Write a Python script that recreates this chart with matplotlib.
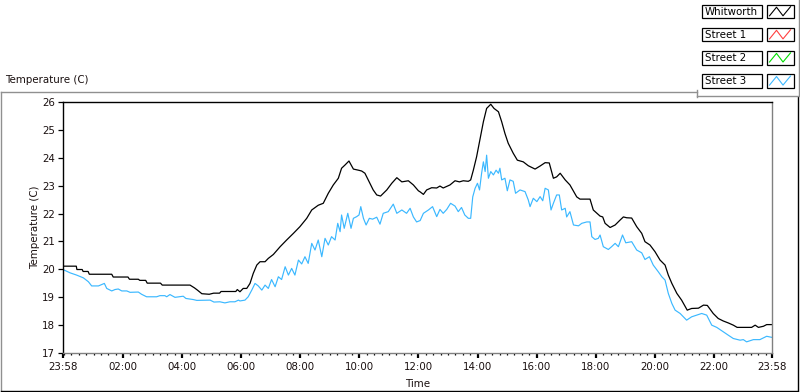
import matplotlib
matplotlib.use("Agg")
import matplotlib.pyplot as plt
from matplotlib.patches import Rectangle
from matplotlib.lines import Line2D
import numpy as np

# ---------------- data ----------------
start_clock = "23:58"
x_tick_labels = ["23:58", "02:00", "04:00", "06:00", "08:00", "10:00", "12:00",
                 "14:00", "16:00", "18:00", "20:00", "22:00", "23:58"]
y_ticks = [17, 18, 19, 20, 21, 22, 23, 24, 25, 26]

series_names = ["Whitworth", "Street 1", "Street 2", "Street 3"]
series_colors = ["#000000", "#FF4040", "#00DD00", "#3BB8FF"]

# hours elapsed since 23:58
whit_t = [0.00, 0.45, 0.47, 0.65, 0.68, 0.85, 0.89, 1.65, 1.70, 2.20, 2.25, 2.55, 2.60, 2.80,
          2.85, 3.30, 3.36, 4.30, 4.45, 4.55, 4.70, 4.95, 5.10, 5.30, 5.35, 5.85, 5.90,
          5.99, 6.10, 6.22, 6.33, 6.44, 6.56, 6.67, 6.84, 6.95, 7.12, 7.35, 7.57, 7.80, 8.02,
          8.25, 8.42, 8.64, 8.81, 8.98, 9.15, 9.32, 9.43, 9.54, 9.68, 9.83, 10.00, 10.11,
          10.22, 10.39, 10.50, 10.62, 10.75, 10.96, 11.13, 11.30, 11.47, 11.69, 11.86, 12.03,
          12.09, 12.20, 12.31, 12.48, 12.65, 12.76, 12.87, 13.10, 13.27, 13.42, 13.55, 13.72,
          13.80, 13.89, 14.00, 14.12, 14.23, 14.34, 14.48, 14.59, 14.74, 14.85, 14.96, 15.07,
          15.24, 15.38, 15.58, 15.75, 15.98, 16.15, 16.32, 16.46, 16.60, 16.71, 16.83, 17.00,
          17.16, 17.39, 17.50, 17.84, 17.95, 18.18, 18.27, 18.35, 18.52, 18.69, 18.86, 18.97,
          19.08, 19.25, 19.42, 19.59, 19.70, 19.87, 20.04, 20.21, 20.38, 20.49, 20.61, 20.78,
          20.94, 21.13, 21.28, 21.51, 21.68, 21.81, 22.01, 22.18, 22.35, 22.52, 22.69, 22.82,
          23.31, 23.43, 23.54, 23.71, 23.82, 24.00]
whit_v = [20.11, 20.11, 19.99, 19.99, 19.92, 19.92, 19.82, 19.82, 19.72, 19.72, 19.64, 19.64,
          19.60, 19.60, 19.50, 19.50, 19.43, 19.43, 19.33, 19.25, 19.12, 19.10, 19.14, 19.14,
          19.20, 19.20, 19.27,
          19.19, 19.31, 19.31, 19.49, 19.85, 20.15, 20.27, 20.27, 20.39, 20.53, 20.81, 21.05,
          21.29, 21.53, 21.83, 22.13, 22.30, 22.37, 22.73, 23.03, 23.27, 23.63, 23.74, 23.89,
          23.60, 23.56, 23.53, 23.45, 23.09, 22.85, 22.67, 22.63, 22.85, 23.09, 23.29, 23.14,
          23.18, 23.03, 22.82,
          22.78, 22.69, 22.85, 22.93, 22.92, 22.99, 22.92, 23.03, 23.18, 23.14, 23.18, 23.16,
          23.21, 23.56, 24.04, 24.70, 25.30, 25.78, 25.93, 25.78, 25.66, 25.30, 24.88, 24.53,
          24.17, 23.92, 23.86, 23.72, 23.60, 23.71, 23.83, 23.82, 23.27, 23.32, 23.45, 23.21,
          23.03, 22.60, 22.52, 22.52, 22.13, 21.91, 21.88, 21.65, 21.50, 21.59, 21.77, 21.88,
          21.85, 21.84, 21.53, 21.29, 20.99, 20.87, 20.63, 20.33, 20.15, 19.79, 19.49, 19.13,
          18.89, 18.53, 18.59, 18.60, 18.71, 18.70, 18.41, 18.23, 18.14, 18.07, 17.99, 17.91,
          17.91, 17.99, 17.91, 17.95, 18.01, 18.01]

street1_t, street1_v = [], []
street2_t, street2_v = [], []

street3_t = [0.00, 0.24, 0.46, 0.69, 0.86, 0.97, 1.20, 1.31, 1.40, 1.48, 1.65, 1.76, 1.87, 1.99,
             2.16, 2.27, 2.55, 2.66, 2.83, 3.17, 3.28, 3.45, 3.51, 3.62, 3.79, 4.07, 4.16, 4.41,
             4.53, 4.98, 5.11, 5.31, 5.48, 5.65, 5.82, 5.94, 5.99, 6.16, 6.27, 6.39, 6.50, 6.61,
             6.73, 6.84, 6.95, 7.06, 7.18, 7.29, 7.40, 7.52, 7.63, 7.74, 7.85, 7.97, 8.08, 8.19,
             8.30, 8.42, 8.53, 8.64, 8.76, 8.87, 8.98, 9.09, 9.21, 9.30, 9.38, 9.43, 9.52, 9.64,
             9.75, 9.83, 9.94, 10.02, 10.08, 10.17, 10.26, 10.37, 10.48, 10.62, 10.73, 10.84,
             11.01, 11.18, 11.30, 11.47, 11.63, 11.75, 11.86, 11.97, 12.09, 12.20, 12.37, 12.51,
             12.65, 12.76, 12.87, 12.99, 13.12, 13.27, 13.38, 13.49, 13.60, 13.72, 13.80, 13.87,
             13.95, 14.03, 14.10, 14.17, 14.23, 14.29, 14.34, 14.40, 14.48, 14.57, 14.66, 14.74,
             14.79, 14.85, 14.96, 15.04, 15.13, 15.24, 15.32, 15.47, 15.64, 15.75, 15.81, 15.92,
             16.04, 16.15, 16.24, 16.32, 16.43, 16.52, 16.60, 16.71, 16.80, 16.88, 17.00, 17.05,
             17.16, 17.28, 17.45, 17.56, 17.73, 17.84, 17.90, 18.01, 18.12, 18.18, 18.29, 18.46,
             18.57, 18.69, 18.80, 18.94, 19.05, 19.25, 19.42, 19.59, 19.70, 19.85, 19.98, 20.15,
             20.27, 20.38, 20.49, 20.61, 20.72, 20.89, 21.11, 21.28, 21.45, 21.62, 21.79, 21.96,
             22.13, 22.35, 22.52, 22.69, 22.92, 23.03, 23.14, 23.37, 23.59, 23.82, 24.00]
street3_v = [19.99, 19.87, 19.79, 19.69, 19.55, 19.40, 19.40, 19.45, 19.49, 19.31, 19.22, 19.27,
             19.29, 19.22, 19.22, 19.17, 19.18, 19.10, 19.01, 19.01, 19.05, 19.05, 19.01, 19.09,
             18.99, 19.03, 18.95, 18.91, 18.88, 18.89, 18.82, 18.83, 18.79, 18.83, 18.83, 18.89,
             18.86, 18.89, 19.01, 19.25, 19.49, 19.40, 19.25, 19.43, 19.31, 19.63, 19.37, 19.73,
             19.63, 20.09, 19.79, 20.03, 19.79, 20.33, 20.19, 20.45, 20.21, 20.93, 20.69, 21.05,
             20.45, 21.11, 20.87, 21.17, 21.05, 21.65, 21.35, 21.95, 21.47, 22.01, 21.47, 21.83,
             21.89, 21.95, 22.25, 21.83, 21.59, 21.83, 21.80, 21.87, 21.62, 22.01, 22.07, 22.34,
             22.01, 22.13, 22.01, 22.19, 21.88, 21.70, 21.75, 22.01, 22.13, 22.25, 21.89, 22.15,
             22.01, 22.15, 22.37, 22.27, 22.07, 22.22, 21.95, 21.83, 21.83, 22.60, 22.91, 23.09,
             22.85, 23.45, 23.86, 23.51, 24.10, 23.27, 23.51, 23.39, 23.56, 23.45, 23.63, 23.21,
             23.27, 22.82, 23.21, 23.16, 22.73, 22.85, 22.79, 22.49, 22.25, 22.55, 22.43, 22.61,
             22.46, 22.91, 22.85, 22.13, 22.37, 22.67, 22.67, 22.13, 22.19, 21.88, 22.07, 21.59,
             21.56, 21.65, 21.70, 21.70, 21.17, 21.07, 21.11, 21.23, 20.81, 20.71, 20.81, 20.93,
             20.81, 21.23, 20.95, 20.99, 20.69, 20.59, 20.35, 20.45, 20.15, 19.91, 19.73, 19.61,
             19.13, 18.77, 18.53, 18.41, 18.17, 18.29, 18.35, 18.41, 18.35, 17.99, 17.91, 17.75,
             17.63, 17.51, 17.45, 17.47, 17.39, 17.47, 17.47, 17.59, 17.55]

# ---------------- figure ----------------
W, H = 800, 392
fig = plt.figure(figsize=(8, 3.92), dpi=100)
FONT = "DejaVu Sans"
FS = 7.4
TXT = "#1a1010"


def fx(x):
    return x / W


def fy(y):
    return 1 - y / H


ax = fig.add_axes([fx(63), fy(352.7), fx(772) - fx(63), fy(102.3) - fy(352.7)])

ax.plot(street1_t, street1_v, color=series_colors[1], lw=0.8)
ax.plot(street2_t, street2_v, color=series_colors[2], lw=0.8)
ax.plot(street3_t, street3_v, color=series_colors[3], lw=0.85)
ax.plot(whit_t, whit_v, color=series_colors[0], lw=0.9)

ax.set_xlim(0, 24)
ax.set_ylim(17, 26)

for s in ["top", "left"]:
    ax.spines[s].set_color("black")
    ax.spines[s].set_linewidth(1.0)
for s in ["bottom", "right"]:
    ax.spines[s].set_color("#808080")
    ax.spines[s].set_linewidth(1.0)


def clock_to_hours(lbl, idx):
    sh, sm = map(int, start_clock.split(":"))
    h, m = map(int, lbl.split(":"))
    v = (h * 60 + m - (sh * 60 + sm)) % (24 * 60) / 60.0
    if idx == len(x_tick_labels) - 1 and v == 0:
        v = 24.0
    return v


xt = [clock_to_hours(l, i) for i, l in enumerate(x_tick_labels)]
ax.set_xticks(xt)
ax.set_xticklabels(x_tick_labels, fontsize=FS, family=FONT, color=TXT)
ax.set_xticks(np.arange(2 / 60, 24, 0.25), minor=True)
ax.tick_params(axis="x", which="major", direction="out", length=3.5, width=1.6,
               color="black", pad=3)
ax.tick_params(axis="x", which="minor", direction="out", length=1.6, width=0.9,
               color="black")
ax.set_yticks(y_ticks)
ax.set_yticklabels([str(v) for v in y_ticks], fontsize=FS, family=FONT, color=TXT)
ax.tick_params(axis="y", which="major", direction="out", length=3.5, width=0.9,
               color="black", pad=2)
ax.tick_params(top=False, right=False)

# axis titles
fig.text(fx(35), fy(227.5), "Temperature (C)", rotation=90, ha="center", va="center",
         fontsize=FS, family=FONT, color=TXT)
fig.text(fx(418), fy(384), "Time", ha="center", va="center", fontsize=FS, family=FONT,
         color=TXT)
fig.text(fx(5), fy(80), "Temperature (C)", ha="left", va="center", fontsize=FS,
         family=FONT, color=TXT)


# panel frame
def fline(xs, ys, color, lw=1.0):
    fig.add_artist(Line2D([fx(x) for x in xs], [fy(y) for y in ys],
                          transform=fig.transFigure, color=color, lw=lw))


fline([0.5, 697], [92, 92], "#909090")
fline([1, 1], [92, 392], "#909090")
fline([1, 797], [390.5, 390.5], "black")
fline([797.5, 797.5], [97, 390.5], "black")
fline([697, 697], [90, 97], "#909090")
fline([697, 798], [96, 96], "#909090")
fline([798.5, 798.5], [0, 96], "#909090")

# legend
for i, (name, col) in enumerate(zip(series_names, series_colors)):
    top = 4.7 + i * 23.1
    hgt = 13.6
    fig.add_artist(Rectangle((fx(702), fy(top + hgt)), fx(60), hgt / H,
                             transform=fig.transFigure, facecolor="white",
                             edgecolor="black", lw=0.9))
    fig.text(fx(705), fy(top + hgt / 2 + 0.3), name, ha="left", va="center",
             fontsize=FS, family=FONT, color="black")
    fig.add_artist(Rectangle((fx(767), fy(top + hgt)), fx(26.5), hgt / H,
                             transform=fig.transFigure, facecolor="white",
                             edgecolor="black", lw=0.9))
    zx = [769.5, 776.5, 783, 790.5]
    zy = [top + hgt - 2.5, top + 2.5, top + hgt - 2.5, top + 2.0]
    fline(zx, zy, col, lw=0.8)

fig.savefig("out.png", dpi=100)
